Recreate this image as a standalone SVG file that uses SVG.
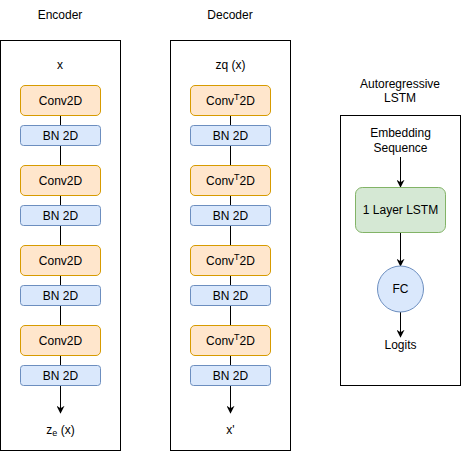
<svg xmlns="http://www.w3.org/2000/svg" width="461" height="451" viewBox="0 0 461 451">
<style>
text{font-family:"Liberation Sans",Arial,sans-serif;font-size:12px;fill:#000;text-anchor:middle}
.frame{fill:#fff;stroke:#000;stroke-width:1}
.conv{fill:#ffe6cc;stroke:#d79b00;stroke-width:1}
.bn{fill:#dae8fc;stroke:#6c8ebf;stroke-width:1}
.lstm{fill:#d5e8d4;stroke:#82b366;stroke-width:1}
.edge{fill:none;stroke:#000;stroke-width:1}
</style>
<defs>
<marker id="arr" viewBox="0 0 10 10" refX="9" refY="5" markerWidth="8" markerHeight="8" markerUnits="userSpaceOnUse" orient="auto">
<path d="M0,0 L10,5 L0,10 L3,5 Z" fill="#000"/>
</marker>
</defs>
<rect width="461" height="451" fill="#fff"/>
<text x="60" y="19">Encoder</text>
<text x="230" y="19">Decoder</text>
<text x="400" y="88">Autoregressive</text>
<text x="400" y="102">LSTM</text>
<g id="encoder-frame"><rect class="frame" x="0.5" y="40.5" width="120" height="410"/></g>
<g id="decoder-frame"><rect class="frame" x="170.5" y="40.5" width="120" height="410"/></g>
<g id="lstm-frame"><rect class="frame" x="340.5" y="115.5" width="120" height="270"/></g>
<g id="connectors">
<path class="edge" d="M60.5,115 V125 M60.5,145 V165 M60.5,195 V205 M60.5,225 V245 M60.5,275 V285 M60.5,305 V325 M60.5,355 V365"/>
<path class="edge" d="M60.5,385 V413" marker-end="url(#arr)"/>
<path class="edge" d="M230.5,115 V125 M230.5,145 V165 M230.5,195 V205 M230.5,225 V245 M230.5,275 V285 M230.5,305 V325 M230.5,355 V365"/>
<path class="edge" d="M230.5,385 V413" marker-end="url(#arr)"/>
<path class="edge" d="M400.5,157 V187" marker-end="url(#arr)"/>
<path class="edge" d="M400.5,233 V266" marker-end="url(#arr)"/>
<path class="edge" d="M400.5,312 V337" marker-end="url(#arr)"/>
</g>
<g id="enc-in"><text x="60" y="69">x</text></g>
<g id="enc-conv1"><rect class="conv" x="20.5" y="85.5" width="80" height="30" rx="4.5"/><text x="60.5" y="104.5">Conv2D</text></g>
<g id="enc-bn1"><rect class="bn" x="20.5" y="125.5" width="80" height="20" rx="3"/><text x="60.5" y="139.5">BN 2D</text></g>
<g id="enc-conv2"><rect class="conv" x="20.5" y="165.5" width="80" height="30" rx="4.5"/><text x="60.5" y="184.5">Conv2D</text></g>
<g id="enc-bn2"><rect class="bn" x="20.5" y="205.5" width="80" height="20" rx="3"/><text x="60.5" y="219.5">BN 2D</text></g>
<g id="enc-conv3"><rect class="conv" x="20.5" y="245.5" width="80" height="30" rx="4.5"/><text x="60.5" y="264.5">Conv2D</text></g>
<g id="enc-bn3"><rect class="bn" x="20.5" y="285.5" width="80" height="20" rx="3"/><text x="60.5" y="299.5">BN 2D</text></g>
<g id="enc-conv4"><rect class="conv" x="20.5" y="325.5" width="80" height="30" rx="4.5"/><text x="60.5" y="344.5">Conv2D</text></g>
<g id="enc-bn4"><rect class="bn" x="20.5" y="365.5" width="80" height="20" rx="3"/><text x="60.5" y="379.5">BN 2D</text></g>
<g id="enc-out"><text x="60.5" y="434">z<tspan font-size="9" dy="2">e</tspan><tspan dy="-2"> (x)</tspan></text></g>
<g id="dec-in"><text x="230.5" y="69">zq (x)</text></g>
<g id="dec-conv1"><rect class="conv" x="190.5" y="85.5" width="80" height="30" rx="4.5"/><text x="230.5" y="104.5">Conv<tspan font-size="9" dy="-5">T</tspan><tspan dy="5">2D</tspan></text></g>
<g id="dec-bn1"><rect class="bn" x="190.5" y="125.5" width="80" height="20" rx="3"/><text x="230.5" y="139.5">BN 2D</text></g>
<g id="dec-conv2"><rect class="conv" x="190.5" y="165.5" width="80" height="30" rx="4.5"/><text x="230.5" y="184.5">Conv<tspan font-size="9" dy="-5">T</tspan><tspan dy="5">2D</tspan></text></g>
<g id="dec-bn2"><rect class="bn" x="190.5" y="205.5" width="80" height="20" rx="3"/><text x="230.5" y="219.5">BN 2D</text></g>
<g id="dec-conv3"><rect class="conv" x="190.5" y="245.5" width="80" height="30" rx="4.5"/><text x="230.5" y="264.5">Conv<tspan font-size="9" dy="-5">T</tspan><tspan dy="5">2D</tspan></text></g>
<g id="dec-bn3"><rect class="bn" x="190.5" y="285.5" width="80" height="20" rx="3"/><text x="230.5" y="299.5">BN 2D</text></g>
<g id="dec-conv4"><rect class="conv" x="190.5" y="325.5" width="80" height="30" rx="4.5"/><text x="230.5" y="344.5">Conv<tspan font-size="9" dy="-5">T</tspan><tspan dy="5">2D</tspan></text></g>
<g id="dec-bn4"><rect class="bn" x="190.5" y="365.5" width="80" height="20" rx="3"/><text x="230.5" y="379.5">BN 2D</text></g>
<g id="dec-out"><text x="230.5" y="434">x'</text></g>
<g id="lstm-in"><text x="400.5" y="137">Embedding</text><text x="400.5" y="152">Sequence</text></g>
<g id="lstm"><rect class="lstm" x="355.5" y="187.5" width="90" height="45" rx="6.75"/><text x="400.5" y="214">1 Layer LSTM</text></g>
<g id="fc"><circle class="bn" cx="400.5" cy="289" r="23"/><text x="400.5" y="293">FC</text></g>
<g id="logits"><text x="400.5" y="349">Logits</text></g>
</svg>
